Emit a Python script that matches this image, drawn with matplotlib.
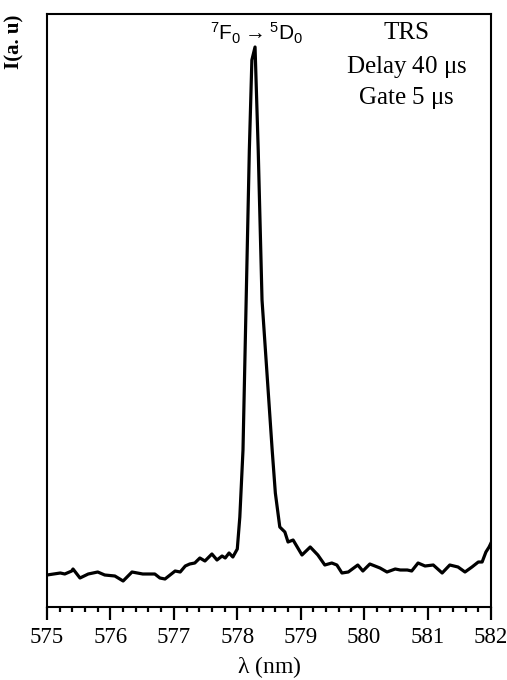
import matplotlib
matplotlib.use("Agg")
import matplotlib.pyplot as plt
from matplotlib.ticker import MultipleLocator

# Time-resolved spectrum, 7F0 -> 5D0 excitation region
wavelength = [
    575.00, 575.21, 575.28, 575.39, 575.41, 575.52, 575.65, 575.80, 575.91, 576.07,
    576.20, 576.34, 576.51, 576.70, 576.78, 576.86, 576.94, 577.02, 577.10, 577.18,
    577.25, 577.33, 577.41, 577.49, 577.60, 577.68, 577.76, 577.81, 577.87, 577.93,
    578.00, 578.04, 578.09, 578.14, 578.19, 578.23, 578.28, 578.33, 578.39, 578.55,
    578.60, 578.67, 578.75, 578.80, 578.88, 579.02, 579.15, 579.27, 579.38, 579.49,
    579.57, 579.65, 579.75, 579.90, 579.98, 580.09, 580.25, 580.36, 580.49, 580.57,
    580.68, 580.75, 580.85, 580.96, 581.09, 581.23, 581.35, 581.48, 581.59, 581.70,
    581.80, 581.86, 581.92, 581.97, 582.00,
]
intensity = [
    32, 34, 33, 36, 38, 29, 33, 35, 32, 31,
    26, 35, 33, 33, 29, 28, 32, 36, 35, 41,
    43, 44, 49, 46, 53, 47, 51, 49, 54, 50,
    58, 90, 157, 307, 457, 547, 560, 457, 307, 157,
    114, 80, 75, 65, 67, 52, 60, 52, 42, 44,
    42, 34, 35, 42, 36, 43, 39, 35, 38, 37,
    37, 36, 44, 41, 42, 34, 42, 40, 35, 40,
    45, 45, 55, 60, 64,
]

fig = plt.figure(figsize=(5.07, 6.8), dpi=100)
ax = fig.add_axes([47 / 507, 1 - 607 / 680, 444 / 507, 593 / 680])

ax.plot(wavelength, intensity, color="black", linewidth=2.3)

ax.set_xlim(575, 582)
ax.set_ylim(0, 593)

serif = ["Liberation Serif", "DejaVu Serif"]

ax.xaxis.set_major_locator(MultipleLocator(1))
ax.xaxis.set_minor_locator(MultipleLocator(0.2))
ax.tick_params(axis="x", which="major", direction="out", length=9.5, width=1.6,
               labelsize=16.5, pad=5)
ax.tick_params(axis="x", which="minor", direction="out", length=3.8, width=1.6)
ax.set_yticks([])
for lbl in ax.get_xticklabels():
    lbl.set_fontfamily(serif)
for sp in ax.spines.values():
    sp.set_linewidth(1.5)

ax.set_xlabel(r"$\mathregular{\lambda}$ (nm)", fontsize=17, family=serif, labelpad=4)
fig.text(14 / 507, 1 - 42 / 680, "I(a. u)", rotation=90, ha="center", va="center",
         fontsize=15, fontweight="bold", family=serif)

ax.text(578.31, 574, r"$\mathregular{^7F_0 \rightarrow {}^5D_0}$", ha="center",
        va="center", fontsize=15, family=["Liberation Sans", "DejaVu Sans"])

for txt, yf in [("TRS", 0.968), (r"Delay 40 $\mathregular{\mu}$s", 0.911),
                (r"Gate 5 $\mathregular{\mu}$s", 0.858)]:
    ax.text(0.81, yf, txt, transform=ax.transAxes, ha="center", va="center",
            fontsize=18, family=serif)

fig.savefig("out.png", dpi=100)
